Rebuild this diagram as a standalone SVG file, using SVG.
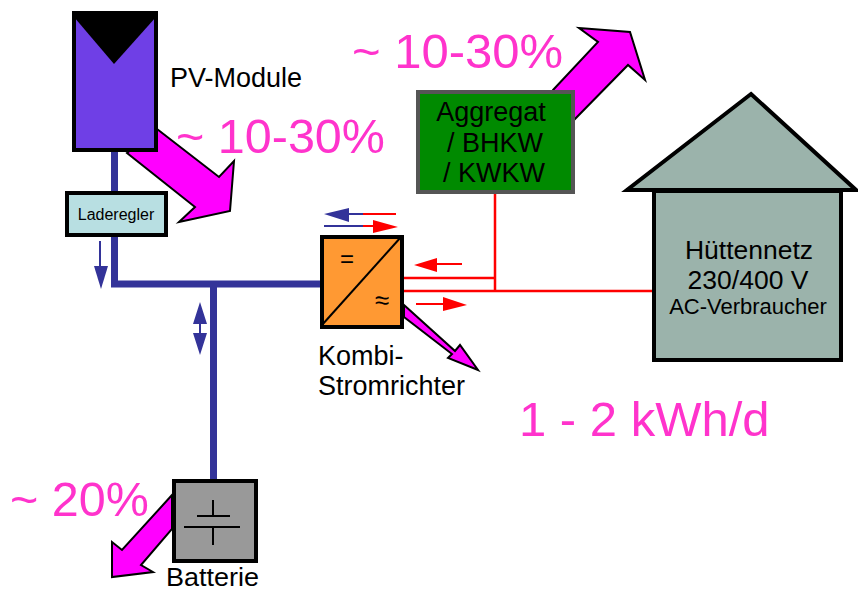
<svg xmlns="http://www.w3.org/2000/svg" width="858" height="592" viewBox="0 0 858 592">
<defs><style>
text{font-family:"Liberation Sans",Arial,sans-serif;fill:#000}
.pct{fill:#ff33cc}
.flow{fill:#ff00ff;stroke:#000;stroke-width:2;stroke-linejoin:miter}
.bus{fill:none;stroke:#333399;stroke-width:7}
.ac{fill:none;stroke:#ff0000;stroke-width:2.5}
.blue{fill:#333399;stroke:none}
.red{fill:#ff0000;stroke:none}
.thinb{stroke:#333399;stroke-width:2;fill:none}
.thinr{stroke:#ff0000;stroke-width:2;fill:none}
</style></defs>
<rect width="858" height="592" fill="#fff"/>
<g id="flows">
<path class="flow" d="M157 129L219 177L234 161L230 211L179 222L195 207L127 153Z"/>
<path class="flow" d="M553 90L598 42L579 28L630 32L645 80L628 65L520 175Z"/>
<path class="flow" d="M404 305L455 351L460 345L478 370L448 358L452 354L404 317Z"/>
<path class="flow" d="M172 495L122 550L112 542L112 577L153 572L141 565L172 529Z"/>
</g>
<g id="connectors">
<path class="bus" d="M114.500 150V192M114.500 236V284H321M213.500 284V480"/>
<path class="ac" d="M403 278H495M403 291H653M495 190V291"/>
<path class="thinb" d="M100 241V268"/><path class="blue" d="M94 266H108L101 289Z"/>
<path class="blue" d="M200 302L207 324H193ZM200 355L193 333H207Z"/><path d="M200 320V336" class="thinb"/>
<path class="blue" d="M324 214L349 208V222Z"/><path class="thinb" d="M345 214H364"/><path class="thinr" d="M363 214H396"/>
<path class="thinb" d="M324 226H364"/><path class="thinr" d="M363 226H375"/><path class="red" d="M373 220L398 227L373 233Z"/>
<path class="red" d="M414 265L437 258V272Z"/><path class="thinr" d="M435 264H462"/>
<path class="thinr" d="M416 304H445"/><path class="red" d="M443 297L467 305L443 311Z"/>
</g>
<g id="pv-module">
<rect x="74" y="13" width="82" height="137" fill="#6f3fe6" stroke="#000" stroke-width="4"/>
<path d="M74 13H156V17L114 64L74 17Z" fill="#000"/>
<text x="170" y="87" font-size="27">PV-Module</text>
</g>
<g id="laderegler">
<rect x="67" y="193" width="99" height="42" fill="#b8dfe2" stroke="#000" stroke-width="4"/>
<text x="116" y="220" font-size="16" text-anchor="middle">Laderegler</text>
</g>
<g id="aggregat">
<rect x="418" y="92" width="155" height="100" fill="#008a00" stroke="#555" stroke-width="4"/>
<text x="491" y="121" font-size="27" text-anchor="middle">Aggregat</text>
<text x="447" y="152" font-size="27">/ BHKW</text>
<text x="443" y="182" font-size="27">/ KWKW</text>
</g>
<g id="huettennetz">
<path d="M751 94L856 190H627Z" fill="#9bb3ab" stroke="#000" stroke-width="4"/>
<rect x="654" y="191" width="187" height="169" fill="#9bb3ab" stroke="#000" stroke-width="4"/>
<text x="749" y="259" font-size="26.500" text-anchor="middle">Hüttennetz</text>
<text x="748" y="288.500" font-size="26.500" text-anchor="middle">230/400 V</text>
<text x="748" y="314" font-size="22" text-anchor="middle">AC-Verbraucher</text>
</g>
<g id="kombi-stromrichter">
<rect x="322" y="237" width="80" height="90" fill="#ff9933" stroke="#000" stroke-width="4"/>
<path d="M322 325L401 237" fill="none" stroke="#000" stroke-width="2"/>
<text x="347" y="267" font-size="24" text-anchor="middle">=</text>
<text x="382" y="309" font-size="26" text-anchor="middle">≈</text>
<text x="318" y="365" font-size="27">Kombi-</text>
<text x="318" y="395" font-size="27">Stromrichter</text>
</g>
<g id="batterie">
<rect x="174" y="481" width="82" height="80" fill="#999" stroke="#000" stroke-width="4"/>
<path d="M213 500V516M197 516H230M184 527H240M213 527V545" fill="none" stroke="#000" stroke-width="2"/>
<text x="166" y="586" font-size="26" textLength="93" lengthAdjust="spacingAndGlyphs">Batterie</text>
</g>
<g id="labels">
<text class="pct" x="176" y="153" font-size="48.500">~ 10-30%</text>
<text class="pct" x="352" y="68" font-size="49">~ 10-30%</text>
<text class="pct" x="10" y="516" font-size="48.500">~ 20%</text>
<text class="pct" x="519" y="436" font-size="49">1 - 2 kWh/d</text>
</g>
</svg>
